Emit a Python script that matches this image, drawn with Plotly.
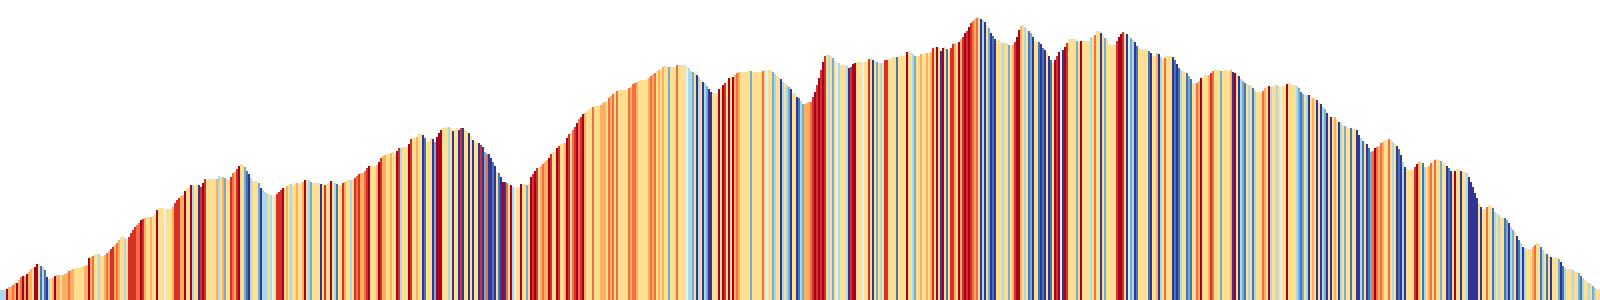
import plotly.graph_objects as go

# Elevation profile (one value per 2 px sample), heights in chart units
elevation = [
    10,10,10,11,13,13,15,17,17,20,23,24,24,26,28,31,33,33,36,36,
    34,33,30,23,21,22,22,24,25,25,25,25,26,27,29,30,31,32,32,32,
    33,34,34,35,42,43,44,46,46,46,44,44,45,47,49,51,53,55,57,60,
    63,64,62,61,63,67,70,73,75,77,80,81,82,83,83,83,84,86,90,92,
    92,92,91,91,91,91,93,97,100,102,104,105,109,112,113,115,115,114,116,115,
    113,117,121,121,121,121,121,121,121,124,123,123,122,121,121,123,127,128,131,134,
    136,135,133,129,126,122,119,119,119,117,112,110,108,107,106,105,105,104,106,108,
    110,112,112,114,116,116,115,117,117,116,117,118,120,121,120,118,117,117,117,117,
    116,116,115,116,117,119,119,117,116,115,115,117,118,120,120,120,120,122,124,126,
    127,127,129,132,134,135,134,134,135,138,142,144,145,146,146,147,148,147,149,152,
    152,153,153,153,156,161,162,162,163,166,166,165,162,158,159,162,161,158,163,167,
    170,172,172,173,173,172,169,170,172,170,172,172,170,169,167,164,160,158,158,157,
    155,153,148,146,146,142,138,134,128,127,123,118,118,117,116,115,113,113,112,113,
    116,116,116,115,116,123,126,129,132,133,134,136,138,140,142,146,148,148,152,154,
    156,157,157,162,166,167,170,173,177,181,183,186,187,189,191,192,193,194,194,194,
    195,197,198,199,202,204,206,207,209,210,210,210,210,210,212,213,216,217,218,219,
    220,220,220,221,222,224,226,227,229,230,231,233,234,234,233,233,233,233,235,235,
    235,235,235,234,232,229,228,227,225,223,220,218,217,214,211,208,207,207,207,211,
    213,215,217,219,222,223,223,225,227,228,228,228,228,228,230,229,228,228,228,228,
    228,229,230,230,230,230,228,226,224,223,221,218,217,215,213,211,207,207,203,202,
    199,196,196,197,198,198,203,208,215,222,230,238,244,245,245,244,242,239,238,237,
    235,235,235,234,232,233,236,237,238,238,238,238,238,238,241,242,240,239,238,237,
    237,237,240,240,241,242,243,243,243,243,244,244,244,248,249,247,246,244,244,244,
    246,246,246,247,247,248,252,253,253,252,249,252,253,251,249,252,256,257,257,258,
    261,263,267,269,273,277,279,281,282,283,281,280,278,275,272,267,264,261,259,260,
    258,257,257,257,255,254,255,258,263,270,274,275,273,271,269,267,263,259,259,258,
    256,252,250,248,244,240,237,240,244,248,252,250,253,257,261,261,261,261,259,258,
    259,259,259,259,259,263,262,265,269,269,267,265,262,261,256,255,255,255,259,263,
    266,268,267,266,265,262,260,258,254,252,251,251,251,251,249,247,244,244,247,246,
    243,241,242,244,244,244,243,240,236,232,230,229,228,227,224,221,217,217,217,219,
    222,223,225,225,225,227,229,231,230,230,229,229,230,230,229,230,228,227,227,224,
    221,219,217,216,215,215,212,209,208,208,208,209,212,213,214,213,214,215,215,214,
    214,214,214,216,217,216,215,215,214,212,208,206,205,205,205,203,202,202,200,197,
    196,193,191,187,184,183,183,183,181,178,177,175,174,173,172,172,171,171,170,165,
    162,159,157,156,152,148,149,152,153,154,157,158,160,160,161,160,158,156,154,151,
    145,138,133,131,130,130,130,133,136,138,139,137,133,133,134,137,139,140,141,140,
    139,137,137,134,132,129,127,129,131,131,129,128,128,127,123,118,113,107,102,97,
    93,91,91,93,95,94,92,88,87,85,83,82,82,80,77,73,70,68,64,60,
    57,53,52,51,51,51,53,55,57,56,53,50,47,46,44,43,42,42,43,41,
    38,34,32,31,31,31,30,28,28,27,24,22,20,18,17,16,14,12,11,11,
]

# Grade class per sample: 0 = steepest climb ... 4 = flat ... 9 = steepest descent
grade_class = [
    6,6,6,0,3,3,2,3,0,3,2,0,3,0,3,3,4,0,0,4,
    8,6,8,9,6,4,3,0,3,3,4,3,3,3,2,3,3,4,4,4,
    4,4,3,3,0,3,2,4,4,6,4,4,3,2,3,1,1,3,2,3,
    4,4,6,4,1,1,1,1,2,2,0,1,3,4,4,3,4,4,0,4,
    4,4,5,4,4,4,3,1,1,1,3,3,0,4,4,0,6,4,4,9,
    1,0,1,4,4,4,4,4,3,6,4,3,7,4,4,1,2,3,1,0,
    4,4,7,8,9,6,4,4,4,7,9,6,6,6,4,6,5,4,1,1,
    1,0,4,3,4,6,4,4,3,4,4,3,0,4,6,7,4,4,4,4,
    9,4,1,4,4,0,4,6,8,4,4,1,3,4,4,6,4,1,2,1,
    3,3,2,1,0,4,4,4,3,0,1,3,3,4,4,3,4,4,0,1,
    6,4,4,4,0,1,4,4,3,4,4,9,8,4,4,4,9,7,0,0,
    0,4,4,4,6,4,9,4,4,9,1,9,4,4,9,4,9,4,4,9,
    1,9,7,2,9,9,8,9,4,8,9,0,9,2,4,0,6,5,4,4,
    0,4,4,7,4,0,1,0,1,4,3,2,3,3,0,1,4,4,0,1,
    4,4,3,0,1,4,2,1,0,2,1,0,3,4,4,4,2,4,4,4,
    3,3,3,4,2,3,2,4,2,4,4,4,4,4,2,3,2,2,3,4,
    4,4,4,4,3,2,3,2,4,3,4,3,4,4,7,4,4,4,2,4,
    4,4,4,5,6,6,7,4,9,6,4,9,6,7,9,9,4,4,4,0,
    4,0,1,4,0,4,0,3,2,3,4,4,4,4,4,7,4,4,4,4,
    4,2,4,5,4,4,7,6,4,4,9,6,4,6,7,9,4,4,9,8,
    6,7,3,3,3,2,1,0,1,0,1,0,1,4,6,4,7,4,5,6,
    4,4,4,6,9,1,0,0,4,4,4,5,4,4,1,4,9,4,7,4,
    6,4,1,1,4,4,4,4,8,4,4,4,4,0,4,4,6,7,4,4,
    3,4,4,3,4,3,1,4,0,4,9,0,4,8,4,1,1,3,4,0,
    3,1,0,1,0,1,2,3,2,4,9,6,9,4,7,9,8,9,4,4,
    4,6,4,4,7,4,3,1,0,0,3,4,6,4,8,7,9,4,4,8,
    9,8,9,4,9,8,4,0,1,0,5,9,0,1,4,4,4,4,7,4,
    0,4,4,4,4,6,4,2,4,4,9,4,7,4,4,4,4,4,1,0,
    0,1,4,9,5,7,6,9,8,4,4,4,4,4,8,9,4,4,3,9,
    6,4,2,4,4,4,9,8,9,8,6,4,4,8,7,8,4,4,2,3,
    0,4,4,4,3,1,2,4,4,4,7,4,4,4,4,3,9,0,4,9,
    6,7,8,4,6,4,8,6,4,4,4,2,3,4,0,6,4,4,6,4,
    5,4,4,0,4,4,4,4,6,7,8,7,4,6,9,4,3,4,9,4,
    9,6,7,9,4,9,4,3,4,9,6,4,7,4,4,8,4,4,9,9,
    6,8,4,9,8,7,2,0,2,3,2,3,4,4,2,4,6,4,9,8,
    9,6,9,4,4,4,4,1,0,3,4,8,6,4,3,2,4,2,4,4,
    7,4,4,9,8,9,4,0,4,4,9,4,4,6,9,9,9,9,9,4,
    9,4,4,2,4,4,8,6,4,6,4,4,8,7,9,6,7,4,9,8,
    6,9,6,4,4,4,3,2,4,4,8,6,4,8,4,9,4,4,4,7,
    9,8,6,4,4,4,6,4,4,7,8,6,4,4,6,4,7,6,4,4,
]

palette = ["#a50026", "#d73027", "#f46d43", "#fdae61", "#fee090",
           "#e0f3f8", "#abd9e9", "#74add1", "#4575b4", "#313695"]

n = len(elevation)
samples = list(range(n))
colors = [palette[grade_class[i]] if i < len(grade_class) else palette[4] for i in range(n)]

fig = go.Figure(
    go.Bar(
        x=samples,
        y=elevation,
        width=1,
        marker=dict(color=colors, line=dict(width=0)),
        hoverinfo="skip",
    )
)

fig.update_layout(
    width=1600,
    height=300,
    margin=dict(l=0, r=0, t=0, b=0),
    bargap=0,
    showlegend=False,
    plot_bgcolor="white",
    paper_bgcolor="white",
    xaxis=dict(visible=False, range=[-0.5, n - 0.5], fixedrange=True),
    yaxis=dict(visible=False, range=[0, 300], fixedrange=True),
)

fig.write_html("out.html", config={"displayModeBar": False})
